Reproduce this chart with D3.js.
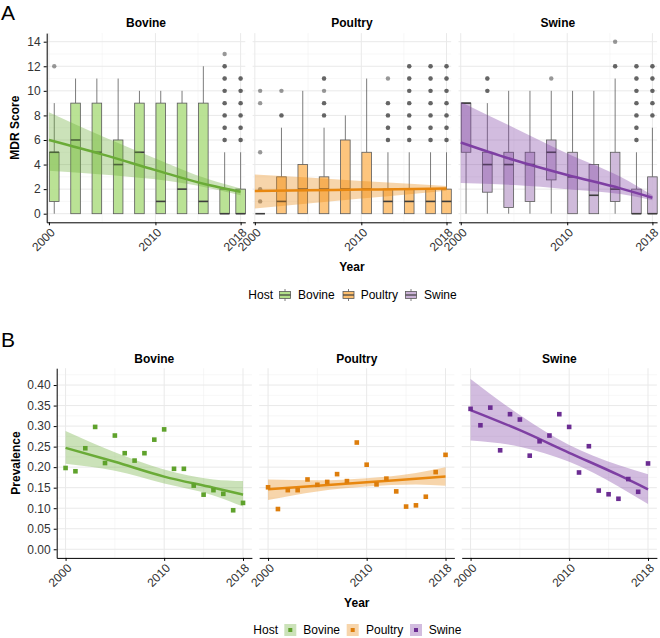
<!DOCTYPE html>
<html><head><meta charset="utf-8">
<script src="https://cdn.jsdelivr.net/npm/d3@7/dist/d3.min.js"></script>
<style>body{margin:0;background:#fff} text{font-family:"Liberation Sans",Arial,Helvetica,sans-serif}</style>
</head><body><svg id="c" width="660" height="638"></svg>
<script>
// ---------------- DATA ----------------
const hosts = ["Bovine", "Poultry", "Swine"];
const lineColors = ["#6aab37", "#e8870f", "#7e3fa3"];
const fillColors = ["#b2df8a", "#fdbf6f", "#cab2d6"];
const pointColors = ["#5fa22c", "#dd7d0b", "#6b2c92"];

const yearTicks = [2000, 2010, 2018];
const yearMinor = [2005, 2014];
const mdrTicks = [0, 2, 4, 6, 8, 10, 12, 14];
const mdrMinor = [1, 3, 5, 7, 9, 11, 13];
const prevTicks = [0, 0.05, 0.10, 0.15, 0.20, 0.25, 0.30, 0.35, 0.40];
const prevMinor = [0.025, 0.075, 0.125, 0.175, 0.225, 0.275, 0.325, 0.375, 0.425];

// Panel A: boxplots of MDR score (positions = year groups)
const boxYears = [2000.5, 2002.5, 2004.5, 2006.5, 2008.5, 2010.5, 2012.5, 2014.5, 2016.5, 2018];
// [lower whisker, q1, median, q3, upper whisker]
const bovineBoxes = [[0,1,5,5,9],[0,0,6,9,11],[0,0,5,9,11],[0,0,4,6,11],[0,0,5,9,10],[0,0,1,9,10],[0,0,2,9,10],[0,0,1,9,12],[0,0,0,2,5],[0,0,0,2,5]];
const poultryBoxes = [[0,0,0,0,0],[0,0,1,3,7],[0,0,2,4,10],[0,0,2,3,7],[0,0,2,6,8],[0,0,2,5,11],[0,0,1,2,5],[0,0,1,2,5],[0,0,1,2,5],[0,0,1,2,5]];
const swineBoxes = [[0,5,9,9,9],[0,1.75,4,5,9],[0,0.5,4,5,10],[0,1,4,5,10],[0,2.75,5,6,10],[0,0,3,5,10],[0,0,1.5,4,10],[0,1,2,5,11],[0,0,0,2,5],[0,0,0,3,7]];
// outliers (repeated values = overlapping points)
const bovineOut = [[12],[],[],[],[],[],[],[],[6,6,7,7,8,8,9,9,10,10,11,11,12,12,13],[6,6,7,7,8,8,9,9,10,10,11,11]];
const poultryOut = [[1,2,5,9,10],[8,8,10],[],[8,8,9,9,10,11,11],[],[],[6,6,7,7,8,8,9,9,11],[6,6,7,7,8,8,9,9,10,10,11,11,12,12],[6,6,7,7,8,8,9,9,10,10,11,11,12,12],[6,6,7,7,8,8,9,9,10,10,11,11,12,12]];
const swineOut = [[],[10,10,11,11],[],[],[11],[],[],[12,12,14],[6,6,7,7,8,8,9,9,10,10,11,11,12,12],[8,8,9,9,10,10,11,11,12,12]];

// Smooth fits (read at these years)
const smoothYears = [2000, 2005, 2010, 2015, 2018];
const mdrFit   = [[6.0,4.83,3.55,2.33,1.79],[1.84,1.90,1.96,2.02,2.06],[5.8,4.37,3.15,2.06,1.3]];
const mdrUpper = [[8.25,6.3,4.5,2.8,2.05],[3.2,2.94,2.67,2.41,2.25],[9.1,7.0,4.9,3.0,1.5]];
const mdrLower = [[3.5,3.2,2.8,2.1,1.5],[0.43,0.83,1.23,1.63,1.87],[2.5,2.33,2.0,1.6,1.1]];

// Panel B: prevalence
const pointYears = [2000,2001,2002,2003,2004,2005,2006,2007,2008,2009,2010,2011,2012,2013,2014,2015,2016,2017,2018];
const bovinePrev = [0.198,0.190,0.246,0.298,0.210,0.277,0.234,0.216,0.234,0.267,0.292,0.196,0.196,0.155,0.133,0.144,0.135,0.095,0.113];
const poultryPrev = [0.151,0.098,0.144,0.144,0.170,0.157,0.164,0.183,0.166,0.260,0.206,0.158,0.172,0.141,0.104,0.107,0.128,0.188,0.230];
const swinePrev = [0.342,0.302,0.345,0.241,0.329,0.316,0.228,0.263,0.277,0.329,0.298,0.187,0.251,0.143,0.134,0.123,0.171,0.140,0.209];
const prevFit   = [[0.247,0.213,0.177,0.150,0.133],[0.146,0.155,0.163,0.172,0.177],[0.339,0.290,0.235,0.181,0.146]];
const prevUpper = [[0.288,0.236,0.194,0.170,0.166],[0.170,0.168,0.173,0.186,0.200],[0.415,0.327,0.254,0.205,0.183]];
const prevLower = [[0.208,0.191,0.160,0.131,0.104],[0.120,0.141,0.153,0.158,0.155],[0.265,0.250,0.213,0.153,0.110]];

const allBoxes = [bovineBoxes, poultryBoxes, swineBoxes];
const allOut = [bovineOut, poultryOut, swineOut];
const allPrev = [bovinePrev, poultryPrev, swinePrev];

// ---------------- LAYOUT ----------------
const svg = d3.select("#c");
const panelsA = [[46.7,245.3],[252.6,451.2],[458.5,657.1]];
const panelsB = [[56.7,251.9],[259.2,454.4],[461.7,656.9]];
const A = {top:33.1, bottom:222.3};
const B = {top:368.2, bottom:557.9};
const yA = d3.scaleLinear().domain([-0.7,14.7]).range([A.bottom,A.top]);
const yB = d3.scaleLinear().domain([-0.021,0.441]).range([B.bottom,B.top]);
const xDomA = [1999.79, 2018.44];
const xDomB = [1999.1, 2018.9];

function grid(g, x, y, x0, x1, top, bottom, majY, minY) {
  minY.filter(v => y(v) >= top).forEach(v => g.append("line").attr("x1",x0).attr("x2",x1).attr("y1",y(v)).attr("y2",y(v)).attr("stroke","#f2f2f2").attr("stroke-width",0.6));
  yearMinor.forEach(v => g.append("line").attr("x1",x(v)).attr("x2",x(v)).attr("y1",top).attr("y2",bottom).attr("stroke","#f2f2f2").attr("stroke-width",0.6));
  majY.forEach(v => g.append("line").attr("x1",x0).attr("x2",x1).attr("y1",y(v)).attr("y2",y(v)).attr("stroke","#e9e9e9").attr("stroke-width",1));
  yearTicks.forEach(v => g.append("line").attr("x1",x(v)).attr("x2",x(v)).attr("y1",top).attr("y2",bottom).attr("stroke","#e9e9e9").attr("stroke-width",1));
}

function xAxis(g, x, bottom) {
  const ax = g.append("g").attr("transform",`translate(0,${bottom})`)
    .call(d3.axisBottom(x).tickValues(yearTicks).tickSize(3).tickSizeOuter(0).tickFormat(d3.format("d")));
  ax.select(".domain").attr("stroke","#000").attr("stroke-width",1);
  ax.selectAll(".tick line").attr("stroke","#000");
  ax.selectAll(".tick text").attr("x",0).attr("y",0).attr("dy","0.75em")
    .attr("transform","translate(0,4.5) rotate(-45)").attr("text-anchor","end")
    .attr("font-size",12).attr("fill","#333").attr("font-family",null);
}
function yAxis(g, y, x0, ticks, fmt) {
  const ax = g.append("g").attr("transform",`translate(${x0},0)`)
    .call(d3.axisLeft(y).tickValues(ticks).tickSize(3).tickSizeOuter(0).tickPadding(3).tickFormat(fmt));
  ax.select(".domain").attr("stroke","#000").attr("stroke-width",1);
  ax.selectAll(".tick line").attr("stroke","#000");
  ax.selectAll(".tick text").attr("font-size",12).attr("fill","#333").attr("font-family",null);
}

// ---------------- PANEL A ----------------
svg.append("text").attr("x",1).attr("y",20).attr("font-size",21).text("A");
hosts.forEach((h,i) => {
  const [x0,x1] = panelsA[i];
  const x = d3.scaleLinear().domain(xDomA).range([x0,x1]);
  const g = svg.append("g");
  grid(g, x, yA, x0, x1, A.top, A.bottom, mdrTicks, mdrMinor);
  const hw = (x(2000.45) - x(2000));
  allBoxes[i].forEach((b,j) => {
    const cx = x(boxYears[j]);
    g.append("line").attr("x1",cx).attr("x2",cx).attr("y1",yA(b[0])).attr("y2",yA(b[1])).attr("stroke","#5a5a5a").attr("stroke-width",0.8);
    g.append("line").attr("x1",cx).attr("x2",cx).attr("y1",yA(b[3])).attr("y2",yA(b[4])).attr("stroke","#5a5a5a").attr("stroke-width",0.8);
    g.append("rect").attr("x",cx-hw).attr("width",2*hw).attr("y",yA(b[3])).attr("height",yA(b[1])-yA(b[3]))
      .attr("fill",fillColors[i]).attr("fill-opacity",0.9).attr("stroke","#5a5a5a").attr("stroke-width",0.8);
    g.append("line").attr("x1",cx-hw).attr("x2",cx+hw).attr("y1",yA(b[2])).attr("y2",yA(b[2])).attr("stroke","#3d3d3d").attr("stroke-width",1.6);
    allOut[i][j].forEach(v => g.append("circle").attr("cx",cx).attr("cy",yA(v)).attr("r",2.2).attr("fill","#333").attr("fill-opacity",0.5));
  });
  const area = d3.area().x((d,k)=>x(smoothYears[k])).y0((d,k)=>yA(mdrLower[i][k])).y1((d,k)=>yA(mdrUpper[i][k])).curve(d3.curveMonotoneX);
  g.append("path").attr("d",area(smoothYears)).attr("fill",lineColors[i]).attr("fill-opacity",0.35);
  const line = d3.line().x((d,k)=>x(smoothYears[k])).y((d,k)=>yA(mdrFit[i][k])).curve(d3.curveMonotoneX);
  g.append("path").attr("d",line(smoothYears)).attr("fill","none").attr("stroke",lineColors[i]).attr("stroke-width",2.5);
  xAxis(g, x, A.bottom);
  if (i===0) yAxis(g, yA, x0, mdrTicks, d3.format("d"));
  svg.append("text").attr("x",(x0+x1)/2).attr("y",27).attr("text-anchor","middle").attr("font-size",12).attr("font-weight","bold").text(h);
});
svg.append("text").attr("transform","translate(19,127.7) rotate(-90)").attr("text-anchor","middle").attr("font-size",12).attr("font-weight","bold").text("MDR Score");
svg.append("text").attr("x",(46.7+657.1)/2).attr("y",271).attr("text-anchor","middle").attr("font-size",12).attr("font-weight","bold").text("Year");

// legend A
(function(){
  const cy = 295;
  const g = svg.append("g");
  g.append("text").attr("x",248.3).attr("y",cy+4.3).attr("font-size",12).text("Host");
  const keyX = [279.5, 343, 405.5];
  const labX = [298, 360.7, 424];
  hosts.forEach((h,i)=>{
    const kx = keyX[i];
    g.append("line").attr("x1",kx+5.5).attr("x2",kx+5.5).attr("y1",cy-6).attr("y2",cy+6).attr("stroke","#5a5a5a").attr("stroke-width",0.8);
    g.append("rect").attr("x",kx).attr("y",cy-3.5).attr("width",11).attr("height",7).attr("fill",fillColors[i]).attr("stroke","#5a5a5a").attr("stroke-width",0.8);
    g.append("line").attr("x1",kx).attr("x2",kx+11).attr("y1",cy).attr("y2",cy).attr("stroke","#3d3d3d").attr("stroke-width",1.2);
    g.append("text").attr("x",labX[i]).attr("y",cy+4.3).attr("font-size",12).text(h);
  });
})();

// ---------------- PANEL B ----------------
svg.append("text").attr("x",1).attr("y",347).attr("font-size",21).text("B");
hosts.forEach((h,i) => {
  const [x0,x1] = panelsB[i];
  const x = d3.scaleLinear().domain(xDomB).range([x0,x1]);
  const g = svg.append("g");
  grid(g, x, yB, x0, x1, B.top, B.bottom, prevTicks, prevMinor);
  const area = d3.area().x((d,k)=>x(smoothYears[k])).y0((d,k)=>yB(prevLower[i][k])).y1((d,k)=>yB(prevUpper[i][k])).curve(d3.curveMonotoneX);
  g.append("path").attr("d",area(smoothYears)).attr("fill",lineColors[i]).attr("fill-opacity",0.35);
  const line = d3.line().x((d,k)=>x(smoothYears[k])).y((d,k)=>yB(prevFit[i][k])).curve(d3.curveMonotoneX);
  g.append("path").attr("d",line(smoothYears)).attr("fill","none").attr("stroke",lineColors[i]).attr("stroke-width",2.5);
  allPrev[i].forEach((v,k) => g.append("rect").attr("x",x(pointYears[k])-2.3).attr("y",yB(v)-2.3).attr("width",4.6).attr("height",4.6).attr("fill",pointColors[i]));
  xAxis(g, x, B.bottom);
  if (i===0) yAxis(g, yB, x0, prevTicks, d3.format(".2f"));
  svg.append("text").attr("x",(x0+x1)/2).attr("y",362.5).attr("text-anchor","middle").attr("font-size",12).attr("font-weight","bold").text(h);
});
svg.append("text").attr("transform","translate(20,463) rotate(-90)").attr("text-anchor","middle").attr("font-size",12).attr("font-weight","bold").text("Prevalence");
svg.append("text").attr("x",(56.7+656.9)/2).attr("y",606.5).attr("text-anchor","middle").attr("font-size",12).attr("font-weight","bold").text("Year");

// legend B
(function(){
  const cy = 630;
  const g = svg.append("g");
  g.append("text").attr("x",253.3).attr("y",cy+4.3).attr("font-size",12).text("Host");
  const keyX = [284.3, 346.7, 410];
  const labX = [303.3, 366, 428.7];
  hosts.forEach((h,i)=>{
    const kx = keyX[i];
    g.append("rect").attr("x",kx).attr("y",cy-6).attr("width",12).attr("height",12).attr("fill",lineColors[i]).attr("fill-opacity",0.35);
    g.append("rect").attr("x",kx+4).attr("y",cy-2).attr("width",4).attr("height",4).attr("fill",pointColors[i]);
    g.append("text").attr("x",labX[i]).attr("y",cy+4.3).attr("font-size",12).text(h);
  });
})();
</script></body></html>
